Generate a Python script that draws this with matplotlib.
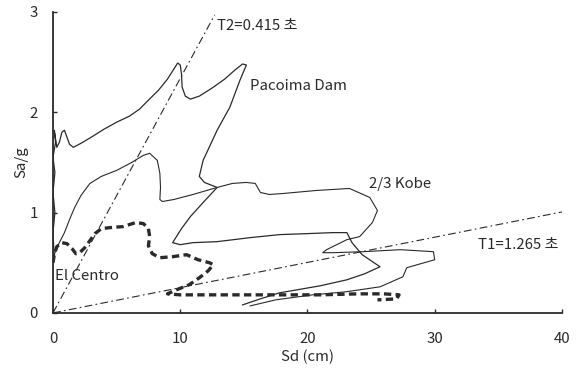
import matplotlib
matplotlib.use("Agg")
import matplotlib.pyplot as plt
import numpy as np

plt.rcParams['font.family'] = ['Noto Sans CJK KR', 'DejaVu Sans']

# spectral displacement Sd (cm) vs spectral acceleration Sa/g, traced per record
pacoima_sd = [0.1, 0.0, 0.15, 0.0, 0.15, 0.0, 0.2, 0.1, 0.3, 0.5, 0.7, 0.9, 1.1, 1.3, 1.6,
              2.2, 3.0, 4.0, 5.0, 6.0, 6.8, 7.5, 8.3, 9.0, 9.5, 9.8, 10.0, 10.1, 10.15,
              10.4, 10.8, 11.5, 12.5, 13.5, 14.3, 14.9, 15.2, 14.7, 13.9, 12.9, 11.8,
              11.5, 11.9, 12.9, 11.8, 10.8, 10.1, 9.7, 9.4, 10.0, 11.0, 12.9, 15.5,
              17.8, 20.0, 22.0, 23.1, 23.5, 24.3, 25.7, 24.5, 23.1, 21.0, 17.8, 16.3, 14.9]
pacoima_sa = [0.55, 0.8, 1.0, 1.2, 1.4, 1.55, 1.7, 1.82, 1.65, 1.7, 1.8, 1.82, 1.75, 1.68, 1.65,
              1.69, 1.75, 1.83, 1.9, 1.96, 2.03, 2.12, 2.22, 2.33, 2.43, 2.49, 2.47, 2.38, 2.25,
              2.16, 2.13, 2.16, 2.24, 2.33, 2.42, 2.48, 2.47, 2.32, 2.05, 1.82, 1.52,
              1.36, 1.3, 1.25, 1.1, 0.96, 0.84, 0.76, 0.7, 0.68, 0.7, 0.71, 0.75,
              0.78, 0.79, 0.8, 0.8, 0.7, 0.58, 0.46, 0.39, 0.33, 0.27, 0.2, 0.14, 0.08]

kobe_sd = [0.0, 0.15, 0.5, 0.9, 1.3, 1.7, 2.2, 2.9, 3.8, 5.0, 6.2, 7.1, 7.6, 8.2, 8.4,
           8.45, 8.4, 8.6, 9.5, 11.0, 12.9, 14.1, 15.2, 15.9, 16.3, 17.0, 18.1, 20.7,
           23.3, 24.9, 25.5, 25.1, 24.1, 23.1, 21.5, 21.2, 22.0, 24.4, 27.3, 29.9, 30.0,
           27.8, 27.5, 25.7, 23.0, 20.4, 17.5, 15.5]
kobe_sa = [0.5, 0.6, 0.7, 0.8, 0.93, 1.05, 1.17, 1.29, 1.36, 1.42, 1.5, 1.57, 1.59, 1.52, 1.39,
           1.25, 1.13, 1.11, 1.13, 1.18, 1.25, 1.29, 1.3, 1.29, 1.2, 1.18, 1.19, 1.22,
           1.24, 1.15, 1.02, 0.9, 0.76, 0.73, 0.63, 0.6, 0.6, 0.61, 0.63, 0.61, 0.53,
           0.45, 0.36, 0.26, 0.21, 0.18, 0.13, 0.07]

centro_sd = [0.0, 0.1, 0.3, 0.7, 1.1, 1.5, 1.8, 2.1, 2.5, 2.9, 3.3, 3.8, 4.5, 5.5, 6.5, 7.1,
             7.5, 7.6, 7.5, 7.8, 8.4, 9.4, 10.5, 11.4, 12.3, 12.6, 12.2, 11.5, 10.7, 9.7,
             9.0, 10.0, 12.0, 15.0, 18.0, 21.0, 24.0, 26.0, 27.2, 27.0, 25.5]
centro_sa = [0.5, 0.58, 0.66, 0.7, 0.69, 0.64, 0.59, 0.6, 0.65, 0.72, 0.79, 0.84, 0.85, 0.86,
             0.9, 0.89, 0.84, 0.76, 0.67, 0.59, 0.55, 0.56, 0.58, 0.53, 0.5, 0.48, 0.42, 0.35,
             0.28, 0.23, 0.19, 0.18, 0.18, 0.18, 0.18, 0.18, 0.19, 0.19, 0.18, 0.14, 0.13]

# constant-period radial lines: Sa/g = (2*pi/T)^2 * Sd / g
T1 = 1.265
T2 = 0.415
g_cm = 981.0

fig = plt.figure(figsize=(5.81, 3.69), dpi=100)
ax = fig.add_axes([0.0912, 0.152, 0.876, 0.816])

ink = '#2a2a2a'
ax.plot(pacoima_sd, pacoima_sa, color=ink, lw=0.9, solid_joinstyle='round')
ax.plot(kobe_sd, kobe_sa, color=ink, lw=0.8, solid_joinstyle='round')
ax.plot(centro_sd, centro_sa, color=ink, lw=2.4, dashes=(2.2, 1.3))

k1 = (2 * np.pi / T1) ** 2 / g_cm
k2 = (2 * np.pi / T2) ** 2 / g_cm
sd1 = np.array([0, 40.0])
sd2 = np.array([0, 3.0 / k2 * 0.99])
ax.plot(sd1, k1 * sd1, color=ink, lw=0.8, dashes=(7, 3, 1.5, 3))
ax.plot(sd2, k2 * sd2, color=ink, lw=0.8, dashes=(7, 3, 1.5, 3))

fs = 10.8
ax.text(12.9, 2.86, 'T2=0.415 초', fontsize=fs, va='center', ha='left', color=ink)
ax.text(33.4, 0.68, 'T1=1.265 초', fontsize=fs, va='center', ha='left', color=ink)
ax.text(15.5, 2.26, 'Pacoima Dam', fontsize=fs, va='center', ha='left', color=ink)
ax.text(24.8, 1.28, '2/3 Kobe', fontsize=fs, va='center', ha='left', color=ink)
ax.text(0.15, 0.37, 'El Centro', fontsize=fs, va='center', ha='left', color=ink)

ax.set_xlim(0, 40)
ax.set_ylim(0, 3)
ax.set_xticks([0, 10, 20, 30, 40])
ax.set_yticks([0, 1, 2, 3])
ax.set_xlabel('Sd (cm)', fontsize=fs, labelpad=2, color=ink)
ax.set_ylabel('Sa/g', fontsize=fs, labelpad=1, color=ink)

for side in ['top', 'right']:
    ax.spines[side].set_visible(False)
for side in ['left', 'bottom']:
    ax.spines[side].set_linewidth(1.3)
    ax.spines[side].set_color(ink)
ax.tick_params(direction='in', length=3, width=1, colors=ink, labelsize=fs)
ax.tick_params(axis='x', pad=14)
ax.tick_params(axis='y', pad=11)

fig.savefig('out.png', dpi=100)
